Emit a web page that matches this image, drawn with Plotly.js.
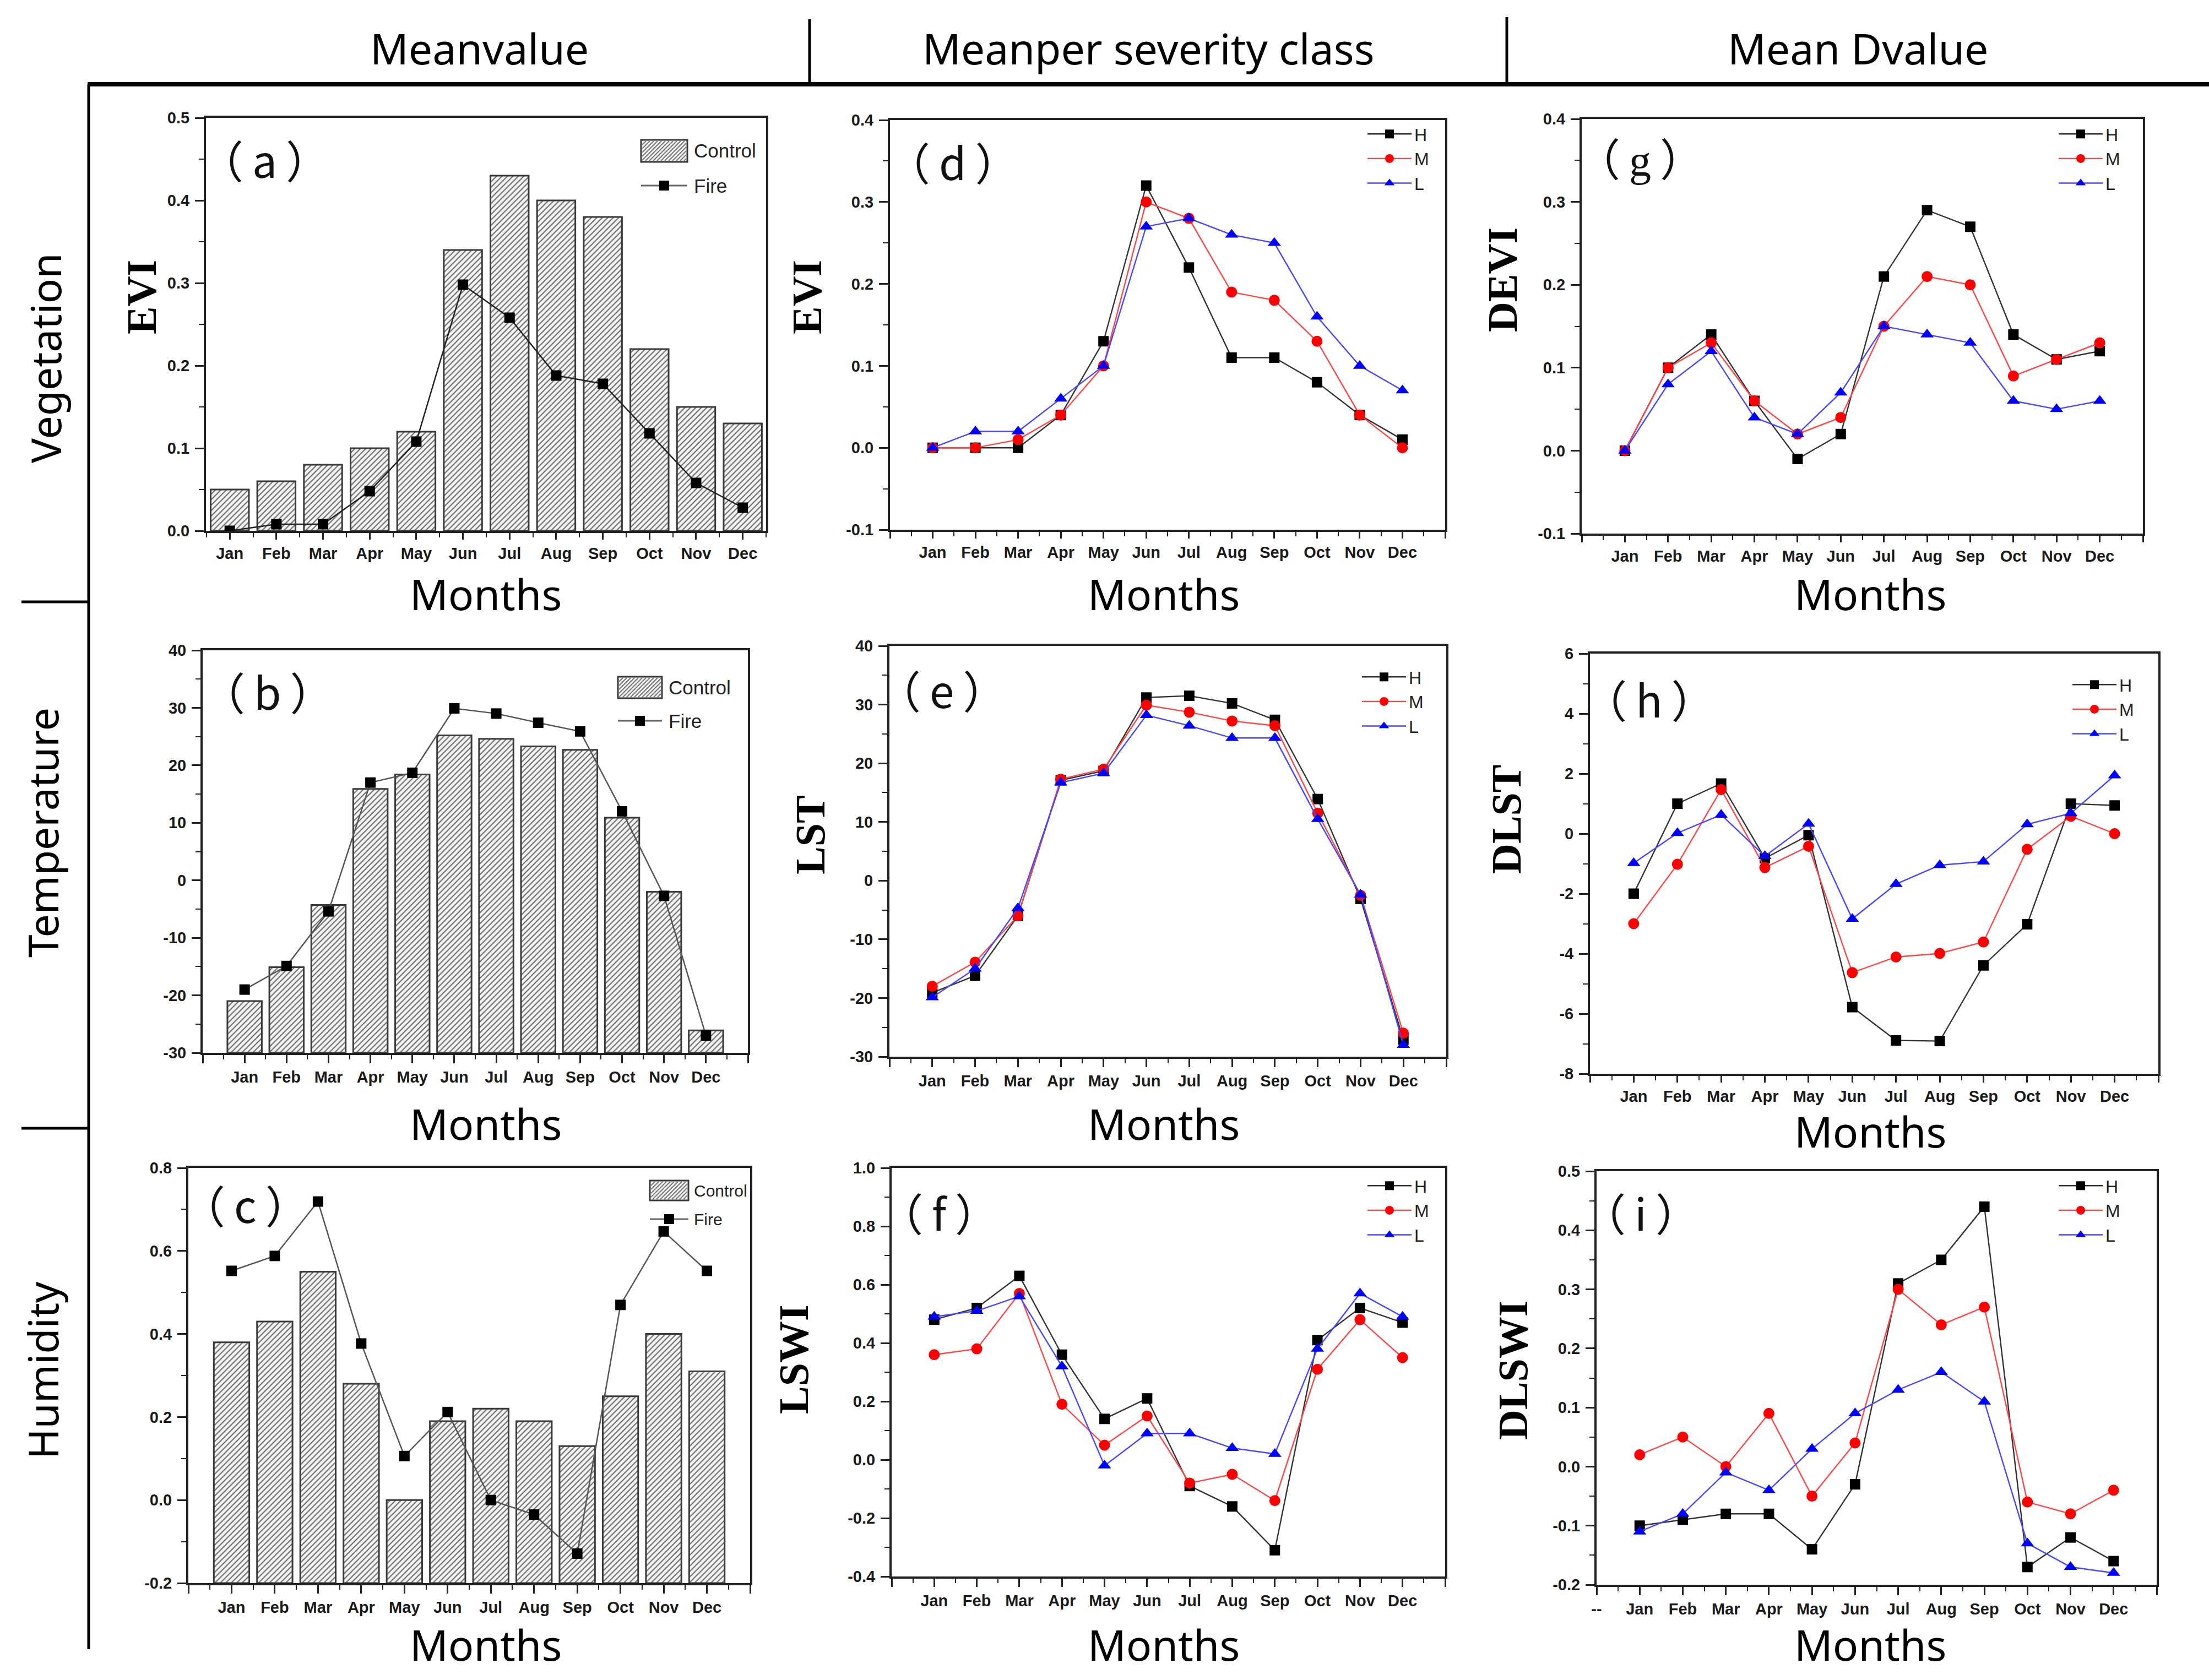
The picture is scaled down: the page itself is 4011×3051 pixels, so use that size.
<!DOCTYPE html>
<html>
<head>
<meta charset="utf-8">
<script src="https://cdn.plot.ly/plotly-3.0.1.min.js"></script>
<style>html,body{margin:0;padding:0;background:#fff;}#chart{width:4011px;height:3051px;}</style>
</head>
<body>
<div id="chart"></div>
<script>
// ---------------- DATA ----------------
const MONTHS = ['Jan','Feb','Mar','Apr','May','Jun','Jul','Aug','Sep','Oct','Nov','Dec'];

const EVI_CONTROL  = [0.05,0.06,0.08,0.10,0.12,0.34,0.43,0.40,0.38,0.22,0.15,0.13];
const EVI_FIRE     = [0.0,0.008,0.008,0.048,0.108,0.298,0.258,0.188,0.178,0.118,0.058,0.028];
const LST_CONTROL  = [-21.0,-15.1,-4.3,15.9,18.4,25.2,24.6,23.3,22.7,10.9,-2.0,-26.1];
const LST_FIRE     = [-19.0,-14.9,-5.4,17.0,18.7,29.9,29.0,27.4,25.9,12.0,-2.7,-27.0];
const LSWI_CONTROL = [0.38,0.43,0.55,0.28,0.0,0.19,0.22,0.19,0.13,0.25,0.40,0.31];
const LSWI_FIRE    = [0.552,0.588,0.719,0.377,0.106,0.212,0.0,-0.035,-0.129,0.470,0.647,0.552];

const EVI_H = [0,0,0,0.04,0.13,0.32,0.22,0.11,0.11,0.08,0.04,0.01];
const EVI_M = [0,0,0.01,0.04,0.10,0.30,0.28,0.19,0.18,0.13,0.04,0.0];
const EVI_L = [0,0.02,0.02,0.06,0.10,0.27,0.28,0.26,0.25,0.16,0.10,0.07];

const LST_H = [-19.1,-16.2,-6.0,17.1,18.7,31.2,31.5,30.2,27.4,13.9,-3.1,-27.1];
const LST_M = [-18.0,-13.9,-6.0,17.3,19.0,29.9,28.7,27.2,26.4,11.5,-2.5,-26.0];
const LST_L = [-19.9,-15.0,-4.7,16.7,18.3,28.2,26.4,24.3,24.3,10.5,-2.4,-28.0];

const LSWI_H = [0.48,0.52,0.63,0.36,0.14,0.21,-0.09,-0.16,-0.31,0.41,0.52,0.47];
const LSWI_M = [0.36,0.38,0.57,0.19,0.05,0.15,-0.08,-0.05,-0.14,0.31,0.48,0.35];
const LSWI_L = [0.49,0.51,0.56,0.32,-0.02,0.09,0.09,0.04,0.02,0.38,0.57,0.49];

const DEVI_H = [0,0.10,0.14,0.06,-0.01,0.02,0.21,0.29,0.27,0.14,0.11,0.12];
const DEVI_M = [0,0.10,0.13,0.06,0.02,0.04,0.15,0.21,0.20,0.09,0.11,0.13];
const DEVI_L = [0,0.08,0.12,0.04,0.02,0.07,0.15,0.14,0.13,0.06,0.05,0.06];

const DLST_H = [-2.0,1.0,1.67,-0.82,-0.05,-5.78,-6.89,-6.91,-4.39,-3.02,1.0,0.94];
const DLST_M = [-3.0,-1.02,1.47,-1.13,-0.42,-4.63,-4.11,-3.99,-3.61,-0.52,0.58,0.0];
const DLST_L = [-0.98,0.02,0.63,-0.75,0.33,-2.84,-1.68,-1.05,-0.93,0.31,0.68,1.94];

const DLSWI_H = [-0.10,-0.09,-0.08,-0.08,-0.14,-0.03,0.31,0.35,0.44,-0.17,-0.12,-0.16];
const DLSWI_M = [0.02,0.05,0.0,0.09,-0.05,0.04,0.30,0.24,0.27,-0.06,-0.08,-0.04];
const DLSWI_L = [-0.11,-0.08,-0.01,-0.04,0.03,0.09,0.13,0.16,0.11,-0.13,-0.17,-0.18];

const COL_HEADERS = ['Meanvalue','Meanper severity class','Mean Dvalue'];
const ROW_LABELS = ['Vegetation','Temperature','Humidity'];
const SEVERITY = ['H','M','L'];
const BAR_NAMES = ['Control','Fire'];

// ---------------- LAYOUT HELPERS ----------------
const W = 4011, H = 3051;
const px = x => x / W;
const py = y => 1 - y / H;
const X = MONTHS.map((m, i) => i + 1);

const panels = [
  {n:1, kind:'bar', l:374, r:1391, t:214, b:964, yr:[0,0.5], dt:0.1, dec:1, xr:[0.49,12.5], ytitle:'EVI', tx:257, ty:540, letter:'a', lx:480, ly:288,
   box:[1164,254,1248,294], fireY:337, legTextX:1258, ctrl:EVI_CONTROL, fire:EVI_FIRE, fireColor:'#222', legFont:35, tickLen:12},
  {n:2, kind:'line', l:1616, r:2624, t:218, b:962, yr:[-0.1,0.4], dt:0.1, dec:1, xr:[0,13], ytitle:'EVI', tx:1465, ty:540, letter:'d', lx:1730, ly:292, leg:[2478,216], s:[EVI_H,EVI_M,EVI_L], tickLen:12},
  {n:3, kind:'line', l:2872, r:3891, t:216, b:969, yr:[-0.1,0.4], dt:0.1, dec:1, xr:[0,13], ytitle:'DEVI', tx:2728, ty:508, letter:'g', lx:2978, ly:292, leg:[3733,216], s:[DEVI_H,DEVI_M,DEVI_L], serifLabel:true, tickLen:12},
  {n:4, kind:'bar', l:368, r:1358, t:1181, b:1912, yr:[-30,40], dt:10, dec:0, xr:[0,13], ytitle:null, letter:'b', lx:485, ly:1254,
   box:[1122,1229,1202,1268], fireY:1309, legTextX:1212, ctrl:LST_CONTROL, fire:LST_FIRE, fireColor:'#555', legFont:35},
  {n:5, kind:'line', l:1615, r:2626, t:1173, b:1919, yr:[-30,40], dt:10, dec:0, xr:[0,13], ytitle:'LST', tx:1471, ty:1516, letter:'e', lx:1710, ly:1251, leg:[2468,1202], s:[LST_H,LST_M,LST_L]},
  {n:6, kind:'line', l:2887, r:3919, t:1187, b:1950, yr:[-8,6], dt:2, dec:0, xr:[0,13], ytitle:'DLST', tx:2735, ty:1488, letter:'h', lx:2994, ly:1268, leg:[3758,1216], s:[DLST_H,DLST_M,DLST_L], tickLen:12},
  {n:7, kind:'bar', l:342, r:1362, t:2121, b:2875, yr:[-0.2,0.8], dt:0.2, dec:1, xr:[0,13], ytitle:null, letter:'c', lx:445, ly:2186,
   box:[1180,2144,1250,2180], fireY:2214, legTextX:1258, ctrl:LSWI_CONTROL, fire:LSWI_FIRE, fireColor:'#555', legFont:30},
  {n:8, kind:'line', l:1619, r:2624, t:2121, b:2863, yr:[-0.4,1.0], dt:0.2, dec:1, xr:[0,13], ytitle:'LSWI', tx:1441, ty:2469, letter:'f', lx:1705, ly:2200, leg:[2478,2126], s:[LSWI_H,LSWI_M,LSWI_L]},
  {n:9, kind:'line', l:2899, r:3916, t:2127, b:2878, yr:[-0.2,0.5], dt:0.1, dec:1, xr:[0,13], ytitle:'DLSWI', tx:2747, ty:2489, letter:'i', lx:2979, ly:2200, leg:[3733,2126], s:[DLSWI_H,DLSWI_M,DLSWI_L], dash0:true}
];

const SER_STYLE = [
  {color:'#000000', line:'rgb(50,50,50)', symbol:'square', size:19},
  {color:'#ff0000', line:'rgb(255,70,70)', symbol:'circle', size:20},
  {color:'#0000ff', line:'rgb(70,70,255)', symbol:'triangle-up', size:21}
];

const TICKFONT = {family:'Liberation Sans, Arial, sans-serif', size:29, color:'#1a1a1a', weight:'bold'};

const traces = [];
const layout = {
  width: W, height: H,
  margin: {l:0, r:0, t:0, b:0},
  paper_bgcolor: '#ffffff', plot_bgcolor: '#ffffff',
  showlegend: true,
  annotations: [], shapes: []
};

// hatch path for the legend swatch (pixel box -> paper path)
function hatchPath(x0, y0, x1, y1, step) {
  let d = '';
  for (let k = x0 + y0 + step; k < x1 + y1; k += step) {
    const xa = Math.max(x0, k - y1), xb = Math.min(x1, k - y0);
    if (xb <= xa) continue;
    d += 'M' + px(xa).toFixed(6) + ',' + py(k - xa).toFixed(6) + 'L' + px(xb).toFixed(6) + ',' + py(k - xb).toFixed(6);
  }
  return d;
}

panels.forEach(p => {
  const sfx = p.n === 1 ? '' : String(p.n);
  const xa = 'x' + sfx, ya = 'y' + sfx;
  const legKey = 'legend' + sfx;

  // y ticks
  const nT = Math.round((p.yr[1] - p.yr[0]) / p.dt);
  const yvals = [], ytext = [];
  for (let i = 0; i <= nT; i++) {
    const v = +(p.yr[0] + i * p.dt).toFixed(6);
    yvals.push(v);
    ytext.push(Math.abs(v) < 1e-9 ? (0).toFixed(p.dec) : v.toFixed(p.dec));
  }
  // x ticks
  let xvals, xtext;
  if (p.xr[0] < 0.25) {
    xvals = [0, ...X, 13];
    xtext = [p.dash0 ? '--' : '', ...MONTHS, ''];
  } else {
    xvals = X.slice(); xtext = MONTHS.slice();
  }

  layout['xaxis' + sfx] = {
    domain: [px(p.l), px(p.r)], anchor: ya, range: p.xr,
    tickmode: 'array', tickvals: xvals, ticktext: xtext,
    ticks: 'outside', ticklen: p.tickLen || 15, tickwidth: 3, tickcolor: '#222',
    minor: {tickmode:'linear', tick0:0.5, dtick:1, ticks:'outside', ticklen:8, tickwidth:2, tickcolor:'#222'},
    showline: true, linewidth: 4, linecolor: '#222', mirror: true,
    showgrid: false, zeroline: false, tickfont: TICKFONT, ticklabelstandoff: 0,
    fixedrange: true
  };
  layout['yaxis' + sfx] = {
    domain: [py(p.b), py(p.t)], anchor: xa, range: p.yr,
    tickmode: 'array', tickvals: yvals, ticktext: ytext,
    ticks: 'outside', ticklen: 16, tickwidth: 3, tickcolor: '#222',
    minor: {tickmode:'linear', tick0:p.yr[0], dtick:p.dt/2, ticks:'outside', ticklen:9, tickwidth:2, tickcolor:'#222'},
    showline: true, linewidth: 4, linecolor: '#222', mirror: true,
    showgrid: false, zeroline: false, tickfont: TICKFONT, ticklabelstandoff: 4,
    fixedrange: true
  };

  if (p.kind === 'bar') {
    const base = p.yr[0];
    traces.push({
      type:'bar', x:X, y:p.ctrl.map(v => v - base), base: base, name:BAR_NAMES[0], xaxis:xa, yaxis:ya, width:0.82,
      showlegend:false,
      marker: {color:'#f4f4f4', line:{color:'#3a3a3a', width:3},
               pattern:{shape:'/', fgcolor:'#666', bgcolor:'#f4f4f4', size:7, solidity:0.28}},
      hoverinfo:'skip'
    });
    traces.push({
      type:'scatter', mode:'lines+markers', x:X, y:p.fire, name:BAR_NAMES[1], xaxis:xa, yaxis:ya,
      showlegend:false,
      line:{color:p.fireColor, width:2.5}, marker:{symbol:'square', size:19, color:'#000'},
      hoverinfo:'skip'
    });
    // drawn legend (swatch box with hatch + line sample)
    const [bx0, by0, bx1, by1] = p.box;
    layout.shapes.push({type:'rect', xref:'paper', yref:'paper', x0:px(bx0), x1:px(bx1), y0:py(by1), y1:py(by0),
      fillcolor:'#f4f4f4', line:{color:'#3a3a3a', width:3}});
    layout.shapes.push({type:'path', xref:'paper', yref:'paper', path:hatchPath(bx0+2, by0+2, bx1-2, by1-2, 7),
      line:{color:'#777', width:2}});
    layout.shapes.push({type:'line', xref:'paper', yref:'paper', x0:px(bx0), x1:px(bx1), y0:py(p.fireY), y1:py(p.fireY),
      line:{color:'#666', width:3}});
    const cx = (bx0 + bx1) / 2;
    layout.shapes.push({type:'rect', xref:'paper', yref:'paper', x0:px(cx-9), x1:px(cx+9), y0:py(p.fireY+9), y1:py(p.fireY-9),
      fillcolor:'#000', line:{width:0}});
    [[BAR_NAMES[0], (by0 + by1) / 2], [BAR_NAMES[1], p.fireY]].forEach(([t, yy]) => {
      layout.annotations.push({text:t, x:px(p.legTextX), y:py(yy), xref:'paper', yref:'paper',
        xanchor:'left', yanchor:'middle', showarrow:false,
        font:{family:'Liberation Sans, Arial, sans-serif', size:p.legFont, color:'#222'}});
    });
  } else {
    layout[legKey] = {
      x: px(p.leg[0]), y: py(p.leg[1]), xanchor: 'left', yanchor: 'top',
      bgcolor: 'rgba(0,0,0,0)', borderwidth: 0,
      font: {family:'Liberation Sans, Arial, sans-serif', size: 32, color:'#222'},
      itemwidth: 80, tracegroupgap: 0, traceorder: 'normal'
    };
    p.s.forEach((arr, k) => {
      const st = SER_STYLE[k];
      traces.push({
        type:'scatter', mode:'lines+markers', x:X, y:arr, name:SEVERITY[k], xaxis:xa, yaxis:ya,
        legend: legKey,
        line:{color:st.line, width:2.4}, marker:{symbol:st.symbol, size:st.size, color:st.color},
        hoverinfo:'skip'
      });
    });
  }

  // panel label  （x）
  layout.annotations.push({
    text: '（\u2009' + p.letter + '\u2009）', x: px(p.lx), y: py(p.ly), xref:'paper', yref:'paper',
    xanchor:'center', yanchor:'middle', showarrow:false,
    font:{family: p.serifLabel ? 'Liberation Serif, Noto Sans CJK SC, serif' : 'Noto Sans CJK SC, sans-serif', size:80, color:'#111'}
  });
  // y title
  if (p.ytitle) {
    layout.annotations.push({
      text: '<b>' + p.ytitle + '</b>', x: px(p.tx), y: py(p.ty), xref:'paper', yref:'paper',
      xanchor:'center', yanchor:'middle', showarrow:false, textangle:-90,
      font:{family:'Liberation Serif, Times New Roman, serif', size:76, color:'#000'}
    });
  }
});

// "Months" titles
const MONTHS_TITLE = 'Months';
const colX = [882, 2113, 3396];
const rowY = [[1078,1078,1078], [2040,2040,2054], [2986,2986,2986]];
rowY.forEach(row => row.forEach((yy, c) => {
  layout.annotations.push({text: MONTHS_TITLE, x:px(colX[c]), y:py(yy), xref:'paper', yref:'paper',
    xanchor:'center', yanchor:'middle', showarrow:false,
    font:{family:'Noto Sans, Open Sans, sans-serif', size:77, color:'#000'}});
}));

// Column headers
const headX = [870, 2085, 3373];
COL_HEADERS.forEach((t, i) => {
  layout.annotations.push({text:t, x:px(headX[i]), y:py(88), xref:'paper', yref:'paper',
    xanchor:'center', yanchor:'middle', showarrow:false,
    font:{family:'Noto Sans, Open Sans, sans-serif', size:77, color:'#000'}});
});

// Row labels
const rowLabY = [650, 1512, 2489];
const rowLabX = [82, 77, 77];
ROW_LABELS.forEach((t, i) => {
  layout.annotations.push({text:t, x:px(rowLabX[i]), y:py(rowLabY[i]), xref:'paper', yref:'paper',
    xanchor:'center', yanchor:'middle', showarrow:false, textangle:-90,
    font:{family:'Noto Sans, Open Sans, sans-serif', size:75, color:'#000'}});
});

// Frame lines
const L = (x0,y0,x1,y1,w) => layout.shapes.push({type:'line', xref:'paper', yref:'paper',
  x0:px(x0), y0:py(y0), x1:px(x1), y1:py(y1), line:{color:'#000', width:w}});
L(159, 153, 4011, 153, 8);
L(161, 153, 161, 2995, 5);
L(1470, 35, 1470, 153, 5);
L(2736, 31, 2736, 153, 5);
L(39, 1093, 161, 1093, 5);
L(39, 2049, 161, 2049, 5);

Plotly.newPlot('chart', traces, layout, {staticPlot:true, displayModeBar:false});
</script>
</body>
</html>
